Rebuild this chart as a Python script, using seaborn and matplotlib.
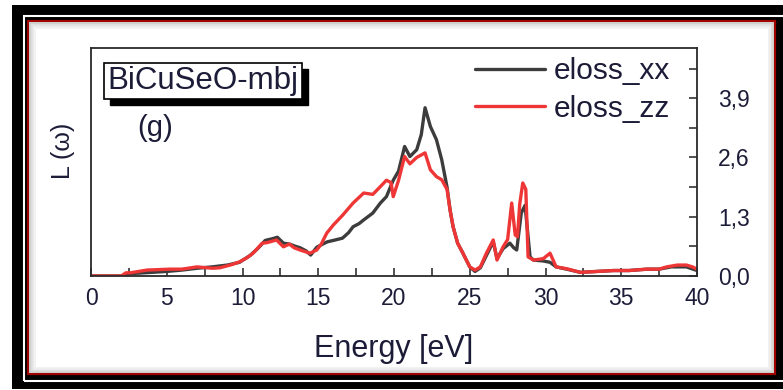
import matplotlib
matplotlib.use("Agg")
import matplotlib.pyplot as plt
from matplotlib.patches import Rectangle
from matplotlib.ticker import MultipleLocator, FixedLocator, FuncFormatter
import seaborn as sns
import pandas as pd

# Energy-loss function of BiCuSeO (mBJ), two polarisations
energy_xx = [0, 2.0, 2.5, 3.5, 5, 6, 7, 8, 9, 9.8, 10.5, 11.0, 11.5, 12.0, 12.3,
             12.7, 13.1, 13.5, 13.8, 14.2, 14.5, 14.9, 15.3, 15.6, 16.0, 16.6,
             17.0, 17.3, 17.7, 18.0, 18.6, 19.1, 19.5, 19.95, 20.3, 20.7, 21.05,
             21.5, 21.8, 22.05, 22.4, 22.8, 23.15, 23.5, 23.7, 23.9, 24.2, 24.55,
             25.0, 25.35, 25.7, 26.1, 26.55, 26.8, 27.2, 27.65, 27.9, 28.1, 28.4,
             28.65, 28.98, 29.2, 29.85, 30.3, 30.7, 31.4, 32.3, 33.4, 34.5, 35.5,
             36.7, 37.5, 38.3, 39.3, 40]
eloss_xx = [0, 0.0, 0.05, 0.07, 0.1, 0.13, 0.17, 0.2, 0.24, 0.3, 0.45, 0.6, 0.78,
            0.82, 0.85, 0.72, 0.7, 0.65, 0.62, 0.55, 0.46, 0.63, 0.7, 0.75, 0.78,
            0.83, 0.95, 1.08, 1.15, 1.23, 1.38, 1.6, 1.74, 2.1, 2.3, 2.84, 2.62,
            2.77, 3.1, 3.69, 3.28, 2.99, 2.55, 1.95, 1.45, 1.08, 0.72, 0.5, 0.2,
            0.1, 0.18, 0.45, 0.75, 0.38, 0.6, 0.72, 0.62, 0.57, 1.38, 1.55, 0.42,
            0.35, 0.33, 0.3, 0.2, 0.15, 0.08, 0.1, 0.12, 0.12, 0.15, 0.15, 0.2,
            0.2, 0.12]

energy_zz = [0, 2.0, 2.3, 2.6, 3.7, 5.2, 6.0, 7.0, 8.0, 8.5, 9.3, 9.8, 10.3, 10.7,
             11.3, 11.6, 12.25, 12.7, 13.1, 13.4, 13.8, 14.45, 14.9, 15.2, 15.56,
             16.0, 16.6, 17.3, 18.0, 18.6, 19.1, 19.5, 19.8, 19.95, 20.3, 20.7,
             21.05, 21.5, 22.05, 22.4, 22.8, 23.15, 23.5, 23.7, 23.9, 24.2, 24.55,
             25.0, 25.35, 25.7, 26.1, 26.55, 26.8, 27.2, 27.5, 27.77, 28.0, 28.15,
             28.3, 28.5, 28.7, 28.85, 29.2, 29.85, 30.3, 30.7, 31.4, 32.3, 33.4,
             34.5, 35.5, 36.7, 37.5, 38.0, 38.7, 39.3, 39.7, 40]
eloss_zz = [0, 0.0, 0.07, 0.07, 0.13, 0.15, 0.15, 0.2, 0.17, 0.18, 0.25, 0.31, 0.4,
            0.5, 0.72, 0.73, 0.79, 0.64, 0.70, 0.62, 0.57, 0.5, 0.57, 0.7, 0.94,
            1.12, 1.33, 1.6, 1.82, 1.79, 1.96, 2.1, 2.05, 1.74, 2.1, 2.62, 2.46,
            2.6, 2.7, 2.33, 2.18, 2.11, 1.9, 1.45, 1.08, 0.72, 0.5, 0.2, 0.13, 0.2,
            0.5, 0.79, 0.35, 0.64, 0.8, 1.6, 0.9, 0.86, 1.58, 2.04, 1.9, 0.42, 0.35,
            0.38, 0.5, 0.2, 0.16, 0.08, 0.1, 0.12, 0.12, 0.15, 0.15, 0.2, 0.24,
            0.24, 0.2, 0.15]

x_ticks = [0, 5, 10, 15, 20, 25, 30, 35, 40]
y_ticks = [0.0, 1.3, 2.6, 3.9]

sns.set_theme(style="white")
plt.rcParams["font.family"] = ["Liberation Sans", "DejaVu Sans"]

W, H = 783, 390
fig = plt.figure(figsize=(W / 100, H / 100), dpi=100)
fig.patch.set_facecolor("white")


def fx(px):
    return px / W


def fy(py):
    return 1 - py / H


# Framing: black mat, thin white rule, white panel with dark red edge
fig.patches.append(Rectangle((fx(12), fy(389)), fx(783 - 12) + 0.01, (389 - 5) / H,
                             transform=fig.transFigure, facecolor="black",
                             edgecolor="none", zorder=-10))
fig.patches.append(Rectangle((fx(24), fy(381)), fx(800 - 24), (381 - 16) / H,
                             transform=fig.transFigure, facecolor="none",
                             edgecolor="white", lw=1.5, zorder=-9))
fig.patches.append(Rectangle((fx(28), fy(374)), fx(775 - 28), (374 - 21) / H,
                             transform=fig.transFigure, facecolor="white",
                             edgecolor="#a00000", lw=1.6, zorder=-8))
for i, g in enumerate(["#c8c8c8", "#d8d8d8", "#e6e6e6", "#f0f0f0"]):
    d = 2 + i * 1.5
    fig.patches.append(Rectangle((fx(28 + d), fy(374 - d)), fx(775 - 28 - 2 * d),
                                 (374 - 21 - 2 * d) / H, transform=fig.transFigure,
                                 facecolor="none", edgecolor=g, lw=1.2, zorder=-7))

ax = fig.add_axes([fx(91), fy(276), fx(697 - 91), (276 - 48) / H])
ax.set_facecolor("none")

df_xx = pd.DataFrame({"Energy": energy_xx, "L": eloss_xx})
df_zz = pd.DataFrame({"Energy": energy_zz, "L": eloss_zz})
sns.lineplot(data=df_xx, x="Energy", y="L", ax=ax, color="#3c3c3c", lw=2.4,
             label="eloss_xx", sort=False)
sns.lineplot(data=df_zz, x="Energy", y="L", ax=ax, color="#ef3636", lw=2.4,
             label="eloss_zz", sort=False)

ax.set_xlim(0, 40)
ax.set_ylim(0, 5.0)

txt = "#1c1c38"
ax.xaxis.set_major_locator(FixedLocator(x_ticks))
ax.xaxis.set_minor_locator(MultipleLocator(2.5))
ax.yaxis.set_major_locator(FixedLocator(y_ticks))
ax.yaxis.set_minor_locator(MultipleLocator(0.65))
ax.yaxis.set_major_formatter(FuncFormatter(lambda v, p: f"{v:.1f}".replace(".", ",")))
ax.yaxis.tick_right()
ax.tick_params(axis="x", which="both", direction="in", length=6, width=1.2,
               color="#333333", labelsize=16.5, labelcolor=txt, pad=8,
               bottom=True, top=False)
ax.tick_params(axis="y", which="both", direction="in", length=6, width=1.2,
               color="#333333", labelsize=16.5, labelcolor=txt, pad=15,
               right=True, left=False)
for s in ax.spines.values():
    s.set_color("#2a2a2a")
    s.set_linewidth(1.3)

ax.set_xlabel("Energy [eV]", fontsize=22, color=txt)
ax.xaxis.set_label_coords(0.5, -0.255)
ax.xaxis.label.set_va("top")
ax.yaxis.set_label_position("left")
ax.set_ylabel("L (ω)", fontsize=18, color=txt)
ax.yaxis.set_label_coords(-0.027, 0.55)

leg = ax.legend(loc="upper right", bbox_to_anchor=((670 - 91) / 606, (276 - 57) / 228),
                frameon=False, fontsize=21.5, handlelength=2.35, handletextpad=0.28,
                labelspacing=0.32, borderpad=0, borderaxespad=0)
for t in leg.get_texts():
    t.set_color(txt)

# Sample name in a box with a drop shadow
label_box = ax.text((203 - 91) / 606, (276 - 81) / 228, "BiCuSeO-mbj",
                    transform=ax.transAxes, ha="center", va="center", fontsize=22.5,
                    color=txt, zorder=5,
                    bbox=dict(boxstyle="square,pad=0.1", facecolor="white",
                              edgecolor="black", lw=1.2))
ax.text((155 - 91) / 606, (276 - 128) / 228, "(g)", transform=ax.transAxes,
        ha="center", va="center", fontsize=21, color=txt)

fig.canvas.draw()
bb = label_box.get_bbox_patch().get_window_extent()
ax.add_artist(Rectangle((bb.x0 + 6, bb.y0 - 6), bb.width, bb.height, transform=None,
                        facecolor="black", edgecolor="black", zorder=4))

fig.savefig("out.png", dpi=100, facecolor=fig.get_facecolor())
